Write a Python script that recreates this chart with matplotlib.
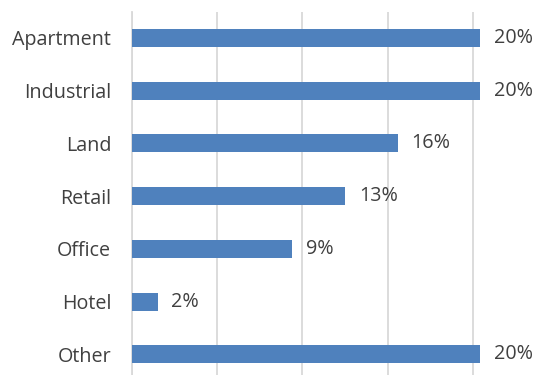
import matplotlib
matplotlib.use("Agg")
from matplotlib import pyplot as plt

# data
categories = ["Apartment", "Industrial", "Land", "Retail", "Office", "Hotel", "Other"]
values = [20.4, 20.4, 15.6, 12.5, 9.4, 1.5, 20.4]
value_labels = ["20%", "20%", "16%", "13%", "9%", "2%", "20%"]

plt.rcParams['font.family'] = ['Open Sans', 'DejaVu Sans']
text_color = '#404040'

fig = plt.figure(figsize=(5.56, 3.75), dpi=100)
ax = fig.add_axes([132 / 556, -0.015, (558 - 132) / 556, 0.984])

bars = ax.barh(range(len(categories)), values, height=0.34, color='#4f81bd', zorder=3)
ax.bar_label(bars, labels=value_labels, padding=10, fontsize=14.2, color=text_color)

ax.set_ylim(len(categories) - 0.5, -0.5)
ax.set_xlim(0, 25)
ax.set_yticks(range(len(categories)))
ax.set_yticklabels(categories, fontsize=14.2, color=text_color)
ax.set_xticks([0, 5, 10, 15, 20])
ax.tick_params(axis='y', length=0, pad=15)
ax.tick_params(axis='x', length=0, labelbottom=False)
ax.grid(axis='x', color='#d9d9d9', linewidth=1.3, zorder=0)
for s in ['top', 'right', 'bottom']:
    ax.spines[s].set_visible(False)
ax.spines['left'].set_color('#d9d9d9')
ax.spines['left'].set_linewidth(1.3)
ax.set_facecolor('white')

fig.savefig('out.png', dpi=100)
